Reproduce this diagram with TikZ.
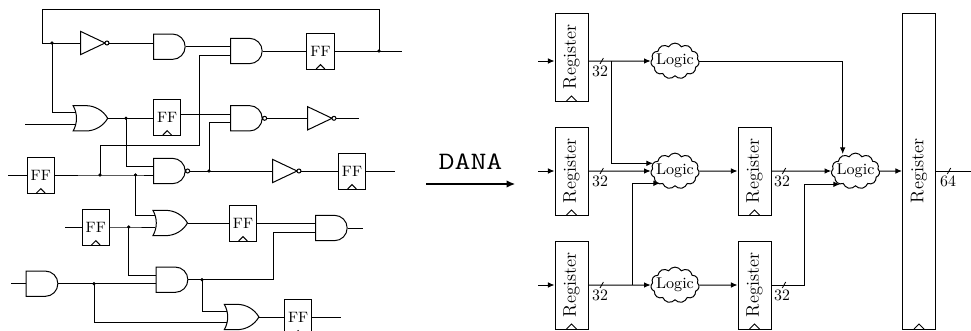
\documentclass[tikz,border=0pt]{standalone}
\usetikzlibrary{shapes.gates.logic.US,shapes.symbols,arrows.meta,calc}
\tikzset{
  x=0.6pt,y=-0.6pt,
  wire/.style={line width=0.6pt},
  arr/.style={wire,-{Latex[length=4pt,width=3.4pt]}},
  gatebase/.style={draw,line width=0.6pt,inner sep=0pt,logic gate input sep=5pt,logic gate inverted radius=1.2pt,anchor=west,minimum height=15.2pt,minimum width=19pt},
  andg/.style={gatebase,and gate US,logic gate inputs=nn},
  nandg/.style={gatebase,nand gate US,logic gate inputs=nn},
  org/.style={gatebase,or gate US,logic gate inputs=nn,minimum width=20.4pt},
  notg/.style={gatebase,not gate US,minimum height=12pt,minimum width=12.5pt},
  clocked/.style={path picture={\draw[line width=0.6pt] ([xshift=-#1]path picture bounding box.south) -- ([yshift=#1]path picture bounding box.south) -- ([xshift=#1]path picture bounding box.south);}},
  ffbox/.style={draw,line width=0.6pt,inner sep=0pt,minimum width=16.5pt,minimum height=21.6pt,font=\fontsize{9}{10}\selectfont,clocked=2.6pt},
  regbox/.style={draw,line width=0.6pt,inner sep=0pt,minimum width=19.8pt,font=\fontsize{11}{13}\selectfont,clocked=3pt},
  logic/.style={draw,line width=0.6pt,cloud,cloud puffs=11,cloud puff arc=120,cloud ignores aspect,inner sep=-5pt,minimum width=29pt,minimum height=21.5pt,font=\fontsize{9.4}{11}\selectfont},
  dot/.style={circle,fill=black,inner sep=0pt,minimum size=2pt},
  bus/.style={font=\fontsize{9.5}{10}\selectfont,inner sep=0pt},
  tick/.style={line width=0.5pt},
}
\newcommand{\slashmark}[1]{\draw[tick] ($(#1)+(-1.7,3)$) -- ($(#1)+(1.7,-3)$);}
\begin{document}
\begin{tikzpicture}
\useasboundingbox (0,0) rectangle (971,331);
% ---------- left circuit: gates
\node[notg] (n1) at (80,43) {};
\node[andg] (a1) at (153,46.7) {};
\node[andg] (a2) at (230,51) {};
\node[ffbox] (f1) at (320.5,51) {FF};
\node[org] (o1) at (76,118.3) {};
\node[ffbox] (f2) at (167.2,117) {FF};
\node[nandg] (na1) at (230,118.3) {};
\node[notg] (n2) at (307,118.3) {};
\node[nandg] (na2) at (153,171) {};
\node[notg] (n3) at (272,171) {};
\node[ffbox] (f3) at (352,171) {FF};
\node[ffbox] (f4) at (40.8,175) {FF};
\node[org] (o2) at (155.8,223) {};
\node[ffbox] (f5) at (95.8,227) {FF};
\node[ffbox] (f6) at (243,223) {FF};
\node[andg] (a4) at (315,228) {};
\node[andg] (a3) at (155.7,279.7) {};
\node[andg] (a5) at (25.7,283.7) {};
\node[org] (o3) at (227.2,317) {};
\node[ffbox] (f7) at (298.2,317) {FF};
% free ends and bends
\coordinate (t1) at (402,51);
\coordinate (t2) at (359,118.3);
\coordinate (t3) at (394.5,171);
\coordinate (t4) at (363,228);
\coordinate (t5) at (341,317);
\coordinate (s1) at (25,124.7);
\coordinate (s2) at (8,175);
\coordinate (s3) at (65,227);
\coordinate (s4) at (11,283.7);
\coordinate (fbL) at (42,43);
\coordinate (fbT) at (42,9.5);
\coordinate (b1) at (199,145);
\coordinate (b2) at (273.7,279.7);
\coordinate (l1) at (0,112.5);
\coordinate (l2) at (0,215.7);
\coordinate (l3) at (0,311.3);
\coordinate (l4) at (0,322.3);
% junctions
\node[dot] (j1) at (52,43) {};
\node[dot] (j2) at (379,51) {};
\node[dot] (j3) at (126,118.3) {};
\node[dot] (j4) at (209,171) {};
\node[dot] (j5) at (100,175) {};
\node[dot] (j6) at (135.5,175) {};
\node[dot] (j7) at (128.7,227) {};
\node[dot] (j8) at (94,283.7) {};
\node[dot] (j9) at (202,279.7) {};
% wires
\draw[wire] (j2.center) -- (j2 |- fbT) -- (fbT) -- (fbL) -- (n1.input);
\draw[wire] (n1.output) -- (n1.output -| a1.input 1);
\draw[wire] (a1.output) -- (a1.output -| a2.input 1);
\draw[wire] (a2.output) -- (f1);
\draw[wire] (f1) -- (t1);
\draw[wire] (j1.center) |- (l1 -| o1.input 1);
\draw[wire] (s1) -- (s1 -| o1.input 2);
\draw[wire] (o1.output) -- (j3.center) -- (f2.west |- j3);
\draw[wire] (f2.east |- na1.input 1) -- (na1.input 1);
\draw[wire] (na1.output) -- (n2.input);
\draw[wire] (n2.output) -- (t2);
\draw[wire] (j3.center) |- (na2.input 1);
\draw[wire] (na2.output) -- (n3.input);
\draw[wire] (n3.output) -- (f3);
\draw[wire] (f3) -- (t3);
\draw[wire] (j4.center) |- (na1.input 2);
\draw[wire] (s2) -- (f4);
\draw[wire] (f4) -- (j5.center) -- (j6.center) -- (j6 -| na2.input 2);
\draw[wire] (j5.center) |- (b1) |- (a2.input 2);
\draw[wire] (j6.center) |- (l2 -| o2.input 1);
\draw[wire] (s3) -- (f5);
\draw[wire] (f5) -- (j7.center) -- (j7 -| o2.input 2);
\draw[wire] (o2.output) -- (f6);
\draw[wire] (f6.east |- a4.input 1) -- (a4.input 1);
\draw[wire] (a4.output) -- (t4);
\draw[wire] (j7.center) |- (a3.input 1);
\draw[wire] (s4) -- (a5.input 1 |- s4);
\draw[wire] (a5.output) -- (j8.center) -- (j8 -| a3.input 2);
\draw[wire] (j8.center) |- (l4 -| o3.input 2);
\draw[wire] (a3.output) -- (j9.center) -- (b2) |- (a4.input 2);
\draw[wire] (j9.center) |- (l3 -| o3.input 1);
\draw[wire] (o3.output) -- (f7);
\draw[wire] (f7) -- (t5);
% ---------- DANA arrow
\coordinate (da) at (426,184);
\coordinate (db) at (515,184);
\draw[line width=0.7pt,-{Latex[length=5pt,width=4.4pt]}] (da) -- node[above=5pt,font=\ttfamily\fontsize{15}{17}\selectfont] (dana) {\scalebox{1.24}[1]{DANA}} (db);
% ---------- right: registers
\node[regbox,minimum height=52.8pt] (r1) at (571.5,57) {\rotatebox{90}{Register}};
\node[regbox,minimum height=52.8pt] (r2) at (571.5,171) {\rotatebox{90}{Register}};
\node[regbox,minimum height=52.8pt] (r3) at (571.5,285) {\rotatebox{90}{Register}};
\node[regbox,minimum height=52.8pt] (r4) at (754.5,171) {\rotatebox{90}{Register}};
\node[regbox,minimum height=52.8pt] (r5) at (754.5,285) {\rotatebox{90}{Register}};
\node[regbox,minimum height=189.6pt] (r6) at (919,171) {\rotatebox{90}{Register}};
\node[logic] (c1) at (675,61) {Logic};
\node[logic] (c2) at (675,171) {Logic};
\node[logic] (c3) at (675,285) {Logic};
\node[logic] (c4) at (855.5,171) {Logic};
\coordinate (i1) at (538,61);
\coordinate (i2) at (538,171);
\coordinate (i3) at (538,285);
\coordinate (x1) at (611,61);
\coordinate (x3) at (632.3,285);
\coordinate (x5) at (804.7,285);
\coordinate (e2) at (653,163.3);
\coordinate (e3) at (660,183.3);
\coordinate (e5) at (840,184.3);
\coordinate (e1) at (842.7,154);
\coordinate (out) at (971,171);
\draw[arr] (i1) -- (i1 -| r1.west);
\draw[arr] (i2) -- (i2 -| r2.west);
\draw[arr] (i3) -- (i3 -| r3.west);
\draw[arr] (r1.east |- x1) -- (c1.west);
\draw[arr] (r2.east) -- (c2.west);
\draw[arr] (r3.east) -- (c3.west);
\draw[arr] (x1) |- (e2);
\draw[arr] (x3) |- (e3);
\draw[arr] (c1.east) -| (e1);
\draw[arr] (c2.east) -- (r4.west);
\draw[arr] (c3.east) -- (r5.west);
\draw[arr] (r4.east) -- (c4.west);
\draw[wire] (r5.east) -- (x5);
\draw[arr] (x5) |- (e5);
\draw[arr] (c4.east) -- (r6.west);
\draw[wire] (r6.east) -- (out);
% bus marks
\coordinate (m1) at (601.7,61);
\coordinate (m2) at (601.7,171);
\coordinate (m3) at (601.7,285);
\coordinate (m4) at (784,171);
\coordinate (m5) at (784,285);
\coordinate (m6) at (949,171);
\slashmark{m1}\slashmark{m2}\slashmark{m3}\slashmark{m4}\slashmark{m5}\slashmark{m6}
\node[bus] (b32a) at (600,71) {32};
\node[bus] (b32b) at (600,181) {32};
\node[bus] (b32c) at (600,295) {32};
\node[bus] (b32d) at (782,181) {32};
\node[bus] (b32e) at (782,295) {32};
\node[bus] (b64) at (948,181) {64};
\foreach \j in {j1,j2,j3,j4,j5,j6,j7,j8,j9}{\fill (\j) circle (1pt);}
\end{tikzpicture}
\end{document}
